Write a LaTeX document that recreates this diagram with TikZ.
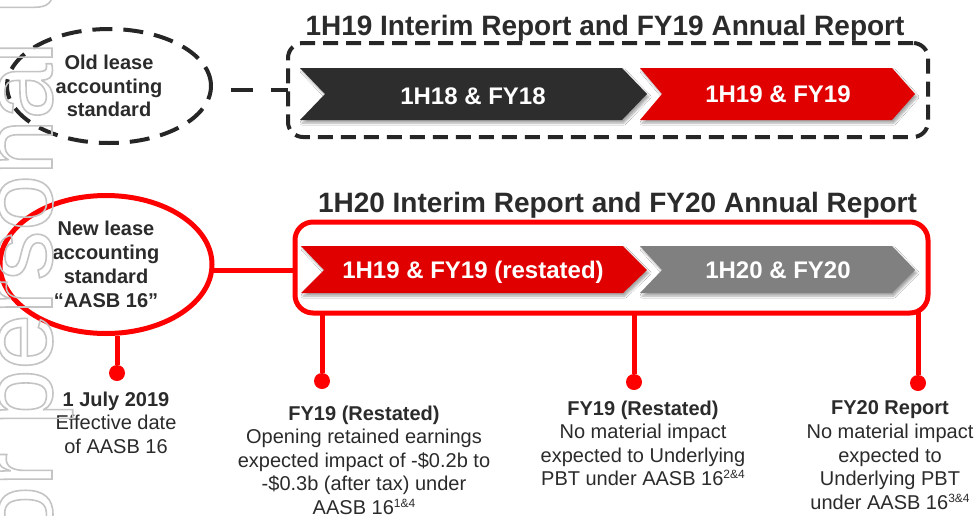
\documentclass[tikz,border=0pt]{standalone}
\usepackage{fontspec}
\setmainfont{Liberation Sans}
\usetikzlibrary{shapes.geometric,shadows.blur,calc}
\definecolor{ink}{HTML}{2B2B2B}
\definecolor{darkchev}{HTML}{2D2D2D}
\definecolor{redchev}{HTML}{E00000}
\definecolor{greychev}{HTML}{808080}
\definecolor{lred}{HTML}{FF0000}
\definecolor{dashc}{HTML}{262626}
\definecolor{wmark}{HTML}{C4C4C4}
\newcommand{\supx}[1]{\raisebox{7pt}{\fontsize{12}{12}\selectfont #1}}
\begin{document}
\begin{tikzpicture}[x=1pt,y=-1pt,
  chevshadow/.style={blur shadow={shadow xshift=2pt,shadow yshift=-3pt,shadow opacity=35,shadow blur steps=6}},
  chevtext/.style={text=white,font=\bfseries\fontsize{24}{28}\selectfont,inner sep=0pt,text height=17.2pt,text depth=0pt},
  titletext/.style={text=ink,font=\bfseries\fontsize{28}{32}\selectfont,inner sep=0pt,text height=20pt,text depth=0pt},
  elltext/.style={ellipse,inner sep=0pt,align=center,text=ink},
  labtext/.style={align=center,text=ink,inner sep=0pt,anchor=north,font=\fontsize{20}{23.6}\selectfont},
  stem/.style={draw=lred,line width=5pt},
  dot/.style={circle,fill=lred,inner sep=0pt,minimum size=16pt},
  dashconn/.style={draw=dashc,line width=4pt,dash pattern=on 22pt off 18pt,dash phase=22pt}
]
\useasboundingbox (0,0) rectangle (978,515);
\fill[white] (0,0) rectangle (978,515);

% ---------- top section ----------
\node[titletext] (t19) at (605,25) {1H19 Interim Report and FY19 Annual Report};
\node[draw=dashc,line width=4pt,dash pattern=on 15pt off 8pt,rounded corners=15pt,
      minimum width=640pt,minimum height=94pt,outer sep=0pt] (tbox) at (608,90) {};
\fill[darkchev,chevshadow] (300,68) -- (622,68) -- (647,94) -- (622,120) -- (300,120) -- (325,94) -- cycle;
\fill[redchev,chevshadow] (640,68) -- (892,68) -- (915,94) -- (892,120) -- (640,120) -- (662,94) -- cycle;
\node[chevtext] (c1) at (473,96) {1H18 \& FY18};
\node[chevtext] (c2) at (778,94) {1H19 \& FY19};

\node[elltext,draw=dashc,line width=4pt,dash pattern=on 20pt off 11pt,
      minimum width=204pt,minimum height=114pt,
      font=\bfseries\fontsize{20}{23.5}\selectfont] (oldell) at (109,86)
      {Old lease\\accounting\\standard};
\draw[dashconn] (oldell.-2.5) -- (oldell.-2.5 -| tbox.west);

% ---------- bottom section ----------
\node[titletext] (t20) at (617.5,202.5) {1H20 Interim Report and FY20 Annual Report};
\node[draw=lred,line width=5pt,rounded corners=18pt,
      minimum width=633pt,minimum height=91pt,outer sep=0pt] (rbox) at (611.5,267.5) {};
\fill[redchev,chevshadow] (301,246) -- (623,246) -- (647,270) -- (623,293) -- (301,293) -- (324,270) -- cycle;
\fill[greychev,chevshadow] (640,246) -- (892,246) -- (915,270) -- (892,293) -- (640,293) -- (662,270) -- cycle;
\node[chevtext] (c3) at (473,270) {1H19 \& FY19 (restated)};
\node[chevtext] (c4) at (778,270) {1H20 \& FY20};

\node[elltext,draw=lred,line width=5pt,
      minimum width=212pt,minimum height=138pt,
      font=\bfseries\fontsize{20}{24}\selectfont] (newell) at (106,264.5)
      {New lease\\accounting\\standard\\“AASB 16”};
\draw[stem] (newell.-3) -- (newell.-3 -| rbox.west);

% stems and dots
\node[dot] (d1) at (117,373) {};
\node[dot] (d2) at (322,381) {};
\node[dot] (d3) at (634,382) {};
\node[dot] (d4) at (918,383) {};
\draw[stem] (d1) -- (d1 |- newell.south);
\draw[stem] (d2) -- (d2 |- rbox.south);
\draw[stem] (d3) -- (d3 |- rbox.south);
\draw[stem] (d4) -- ($(d4 |- rbox.south)+(0,-2)$);

% labels
\node[labtext] (l1) at (116,391.3) {\textbf{1 July 2019}\\Effective date\\of AASB 16};
\node[labtext] (l2) at (364,405.3) {\textbf{FY19 (Restated)}\\Opening retained earnings\\expected impact of -\$0.2b to\\-\$0.3b (after tax) under\\AASB 16\supx{1\&4}};
\node[labtext] (l3) at (643,400.3) {\textbf{FY19 (Restated)}\\No material impact\\expected to Underlying\\PBT under AASB 16\supx{2\&4}};
\node[labtext] (l4) at (890,400.8) {\textbf{FY20 Report}\\No material impact\\expected to\\Underlying PBT\\under AASB 16\supx{3\&4}};

% watermark
\begin{scope}
\clip (0,0) rectangle (978,515);
\node[rotate=90,anchor=base west,inner sep=0pt,text=wmark,font=\fontsize{100}{100}\selectfont] (wm) at (52,603)
  {\special{pdf:literal direct 1 Tr 1.6 w}For personal use only\special{pdf:literal direct 0 Tr}};
\end{scope}
\end{tikzpicture}
\end{document}
